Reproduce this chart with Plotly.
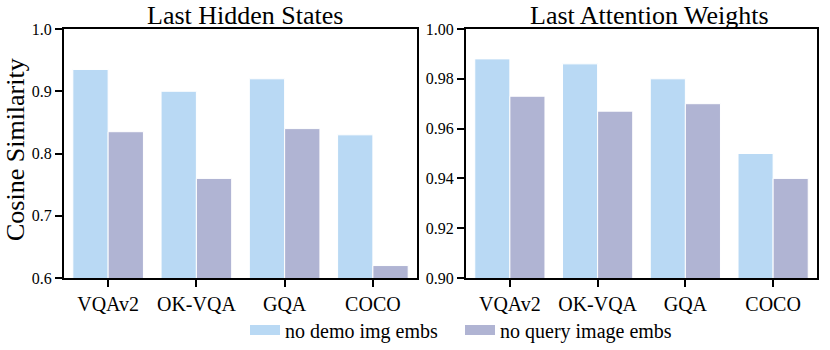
import plotly.graph_objects as go

categories = ["VQAv2", "OK-VQA", "GQA", "COCO"]
series_names = ["no demo img embs", "no query image embs"]
hidden_no_demo = [0.935, 0.900, 0.920, 0.830]
hidden_no_query = [0.835, 0.760, 0.840, 0.620]
attn_no_demo = [0.988, 0.986, 0.980, 0.950]
attn_no_query = [0.973, 0.967, 0.970, 0.940]
hidden_ticks = [0.6, 0.7, 0.8, 0.9, 1.0]
attn_ticks = [0.90, 0.92, 0.94, 0.96, 0.98, 1.00]

colors = ["#B9D9F4", "#B0B4D3"]
FONT = "Liberation Serif"

# body margin is reset to 0 in the page, so the figure fills the window
W, H = 830, 350


def px(x):
    return x / W


def py(y):
    return 1 - y / H


def f(size):
    return dict(family=FONT, size=size, color="black")


fig = go.Figure()

for i, vals in enumerate([hidden_no_demo, hidden_no_query]):
    fig.add_trace(go.Bar(
        x=categories, y=vals, name=series_names[i],
        marker=dict(color=colors[i], line=dict(color="white", width=1)),
        xaxis="x", yaxis="y", showlegend=False,
    ))

for i, vals in enumerate([attn_no_demo, attn_no_query]):
    fig.add_trace(go.Bar(
        x=categories, y=vals, name=series_names[i],
        marker=dict(color=colors[i], line=dict(color="white", width=1)),
        xaxis="x2", yaxis="y2", showlegend=False,
    ))

# wide legend swatches
for i in range(2):
    fig.add_trace(go.Scatter(
        x=[None], y=[None], mode="lines", name=series_names[i],
        line=dict(color=colors[i], width=10), xaxis="x", yaxis="y",
    ))

ydom = [py(278), py(29)]
axis_common = dict(
    showline=True, linecolor="black", linewidth=2, mirror=True,
    ticks="outside", ticklen=7, tickwidth=1.5, tickcolor="black",
    showgrid=False, zeroline=False, automargin=False,
)

fig.update_layout(
    width=W, height=H,
    margin=dict(l=0, r=0, t=0, b=0, autoexpand=False),
    plot_bgcolor="white", paper_bgcolor="white",
    font=f(16),
    barmode="group", bargap=0.2, bargroupgap=0,
    xaxis=dict(domain=[px(64), px(417)], range=[-0.5, 3.5],
               tickfont=f(20), anchor="y", **axis_common),
    yaxis=dict(domain=ydom, range=[0.6, 1.0], tickvals=hidden_ticks,
               ticktext=[f"{v:.1f}" for v in hidden_ticks],
               tickfont=f(16), anchor="x", **axis_common),
    xaxis2=dict(domain=[px(466), px(817)], range=[-0.5, 3.5],
                tickfont=f(20), anchor="y2", **axis_common),
    yaxis2=dict(domain=ydom, range=[0.9, 1.0], tickvals=attn_ticks,
                ticktext=[f"{v:.2f}" for v in attn_ticks],
                tickfont=f(16), anchor="x2", **axis_common),
    legend=dict(orientation="h", x=px(245), xanchor="left", y=py(330),
                yanchor="middle", font=f(20), itemwidth=30, entrywidth=170,
                bgcolor="rgba(0,0,0,0)", traceorder="normal"),
    showlegend=True,
)

fig.add_annotation(text="Last Hidden States", x=px(245), y=py(16),
                   xref="paper", yref="paper", showarrow=False,
                   font=f(26), xanchor="center", yanchor="middle")
fig.add_annotation(text="Last Attention Weights", x=px(649), y=py(16),
                   xref="paper", yref="paper", showarrow=False,
                   font=f(26), xanchor="center", yanchor="middle")
fig.add_annotation(text="Cosine Similarity", x=px(15), y=py(150),
                   xref="paper", yref="paper", showarrow=False, textangle=-90,
                   font=f(26), xanchor="center", yanchor="middle")

fig.write_html("out.html", config={"displayModeBar": False},
               post_script="document.body.style.margin='0px';")
